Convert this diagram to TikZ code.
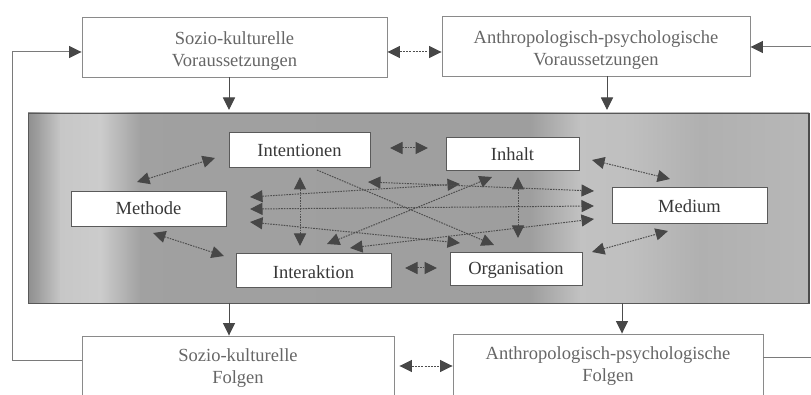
\documentclass[tikz,border=0pt]{standalone}
\usepackage{fontspec}
\setmainfont{Liberation Serif}
\usetikzlibrary{arrows.meta}
\definecolor{obline}{HTML}{8A8A8A}
\definecolor{otext}{HTML}{666666}
\definecolor{ibline}{HTML}{5A5A5A}
\definecolor{itext}{HTML}{383838}
\definecolor{linkc}{HTML}{4E4E4E}
\definecolor{olc}{HTML}{7A7A7A}
\definecolor{headc}{HTML}{474747}
\newcommand\lowtext[2]{\raisebox{-#1}[\height][\depth]{\begin{tabular}{@{}c@{}}#2\end{tabular}}}
\begin{document}
\begin{tikzpicture}[x=1pt,y=-1pt,
  every node/.style={font=\fontsize{18.5}{22}\selectfont, inner sep=0pt},
  obox/.style={draw=obline, line width=0.9pt, text=otext, fill=white},
  ibox/.style={draw=ibline, line width=0.7pt, fill=white, text=itext},
  tip/.tip={Triangle[length=12.5pt,width=12pt,color=headc]},
  oline/.style={draw=olc, line width=1pt},
  oarrow/.style={oline, -tip},
  odot/.style={draw=linkc, line width=1pt, dash pattern=on 2pt off 1.2pt},
  obiarrow/.style={odot, tip-tip},
  link/.style={draw=linkc, line width=1pt, dash pattern=on 1.6pt off 1.1pt, tip-tip},
  linkone/.style={draw=linkc, line width=1pt, dash pattern=on 1.6pt off 1.1pt, -tip}
]
\useasboundingbox (0,0) rectangle (811,395);
\clip (0,0) rectangle (811,395);
\fill[white] (0,0) rectangle (811,395);

% shaded field
\fill[black!36] (28,113) rectangle (809,303);
\shade[left color=black!44, right color=black!36] (28,113) rectangle (41,303);
\shade[left color=black!36, right color=black!22] (40,113) rectangle (61,303);
\shade[left color=black!22, right color=black!20] (60,113) rectangle (101,303);
\shade[left color=black!20, right color=black!37] (100,113) rectangle (141,303);
\shade[left color=black!37, right color=black!38] (140,113) rectangle (531,303);
\shade[left color=black!38, right color=black!24] (530,113) rectangle (581,303);
\shade[left color=black!24, right color=black!25] (580,113) rectangle (631,303);
\shade[left color=black!25, right color=black!31] (630,113) rectangle (701,303);
\shade[left color=black!31, right color=black!28] (700,113) rectangle (809,303);
\node[draw=black!65, line width=0.8pt, minimum width=781pt, minimum height=190pt] (main) at (418.5,208) {};
\draw[black!70, line width=2pt] (main.north east) -- (main.south east);

% outer boxes
\node[obox, minimum width=305pt, minimum height=60pt] (sv) at (234.5,47)
  {\lowtext{4pt}{Sozio-kulturelle\\Voraussetzungen}};
\node[obox, minimum width=308pt, minimum height=60pt] (av) at (596,46)
  {\lowtext{4.5pt}{Anthropologisch-psychologische\\Voraussetzungen}};
\node[obox, minimum width=312pt, minimum height=65pt] (sf) at (238,368.5)
  {\lowtext{0pt}{Sozio-kulturelle\\Folgen}};
\node[obox, minimum width=310pt, minimum height=65pt] (af) at (608,366.5)
  {\lowtext{0pt}{Anthropologisch-psychologische\\Folgen}};

% inner boxes
\node[ibox, minimum width=141pt, minimum height=35pt] (int) at (299.5,149.5) {\lowtext{3pt}{Intentionen}};
\node[ibox, minimum width=133pt, minimum height=33pt] (inh) at (512.5,153.5) {\lowtext{3pt}{Inhalt}};
\node[ibox, minimum width=155pt, minimum height=35pt] (met) at (148.5,208.5) {\lowtext{2pt}{Methode}};
\node[ibox, minimum width=155pt, minimum height=36pt] (med) at (689.5,205) {\lowtext{3pt}{Medium}};
\node[ibox, minimum width=155pt, minimum height=34pt] (ia) at (313.5,270) {\lowtext{4pt}{Interaktion}};
\node[ibox, minimum width=132pt, minimum height=33pt] (org) at (516,268.5) {\lowtext{2pt}{Organisation}};

% outer connectors
\coordinate (lt) at (12,52);
\coordinate (lb) at (12,360);
\draw[oarrow] (sf.west |- lb) -- (lb) -- (lt) -- (sv.west |- lt);
\coordinate (rt) at (811,47);
\draw[oarrow] (rt) -- (av.east |- rt);
\coordinate (rb) at (811,357);
\draw[oline] (af.east |- rb) -- (rb);
\coordinate (tm) at (414,52);
\draw[obiarrow] (sv.east |- tm) -- (av.west |- tm);
\coordinate (bm) at (420,366);
\draw[obiarrow, shorten <=5pt] (sf.east |- bm) -- (af.west |- bm);
\coordinate (d1) at (229,110);
\draw[oarrow, draw=black!70] (d1 |- sv.south) -- (d1);
\coordinate (d2) at (607,110);
\draw[oarrow, draw=black!70] (d2 |- av.south) -- (d2);
\coordinate (d3) at (229,303);
\draw[oarrow, draw=black!70] (d3) -- (d3 |- sf.north);
\coordinate (d4) at (622,303);
\draw[oarrow, draw=black!70] (d4) -- (d4 |- af.north);

% inner connectors
\coordinate (c1a) at (137,182);  \coordinate (c1b) at (215,158);
\coordinate (c2a) at (153,233);  \coordinate (c2b) at (224,256);
\coordinate (c3a) at (390,148);  \coordinate (c3b) at (428,148);
\coordinate (c4a) at (405,268);  \coordinate (c4b) at (437,268);
\coordinate (c5a) at (592,160);  \coordinate (c5b) at (670,179);
\coordinate (c6a) at (592,252);  \coordinate (c6b) at (668,231);
\coordinate (c7a) at (300,177);  \coordinate (c7b) at (300,246);
\coordinate (c8a) at (518,177);  \coordinate (c8b) at (518,238);
\coordinate (c9a) at (250,197);  \coordinate (c9b) at (460,184);
\coordinate (c10a) at (250,209); \coordinate (c10b) at (594,206);
\coordinate (c11a) at (250,222); \coordinate (c11b) at (460,243);
\coordinate (c12a) at (368,182); \coordinate (c12b) at (594,191);
\coordinate (c13a) at (350,248); \coordinate (c13b) at (594,219);
\coordinate (c14a) at (317,170); \coordinate (c14b) at (494,245);
\coordinate (c15a) at (327,244); \coordinate (c15b) at (492,177);

\draw[link] (c1a) -- (c1b);
\draw[link] (c2a) -- (c2b);
\draw[link] (c3a) -- (c3b);
\draw[link] (c4a) -- (c4b);
\draw[link] (c5a) -- (c5b);
\draw[link] (c6a) -- (c6b);
\draw[link] (c7a) -- (c7b);
\draw[link] (c8a) -- (c8b);
\draw[link] (c9a) -- (c9b);
\draw[link] (c10a) -- (c10b);
\draw[link] (c11a) -- (c11b);
\draw[link] (c12a) -- (c12b);
\draw[link] (c13a) -- (c13b);
\draw[linkone] (c14a) -- (c14b);
\draw[link] (c15a) -- (c15b);
\end{tikzpicture}
\end{document}
